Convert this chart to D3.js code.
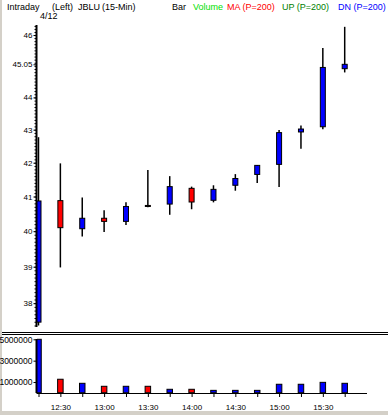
<!DOCTYPE html>
<html>
<head>
<meta charset="utf-8">
<script src="https://cdnjs.cloudflare.com/ajax/libs/d3/7.8.5/d3.min.js"></script>
<style>
  html, body { margin: 0; padding: 0; background: #fff; }
  svg { display: block; }
  text { font-family: "Liberation Sans", Arial, sans-serif; }
</style>
</head>
<body>
<div id="chart"></div>
<script>
// 15-min bars, JBLU 4/12
var times = ["12:15", "12:30", "12:45", "13:00", "13:15", "13:30", "13:45", "14:00",
             "14:15", "14:30", "14:45", "15:00", "15:15", "15:30", "15:45"];
var opens  = [37.49, 40.88, 40.07, 40.37, 40.28, 40.74, 40.78, 41.24, 40.89, 41.33, 41.65, 41.95, 42.93, 43.09, 44.91];
var highs  = [42.77, 41.98, 40.97, 40.60, 40.83, 41.78, 41.60, 41.29, 41.33, 41.66, 41.93, 42.99, 43.13, 45.58, 46.27];
var lows   = [37.40, 38.98, 39.85, 39.98, 40.18, 40.69, 40.47, 40.63, 40.83, 41.17, 41.40, 41.28, 42.42, 43.01, 44.79];
var closes = [40.87, 40.10, 40.37, 40.28, 40.71, 40.71, 41.29, 40.84, 41.21, 41.53, 41.92, 42.91, 43.02, 44.95, 45.05];
var volumes = [5000000, 1260000, 880000, 600000, 600000, 600000, 320000, 320000,
               220000, 220000, 220000, 790000, 790000, 970000, 880000];

var priceTicks = [38, 39, 40, 41, 42, 43, 44, 45.05, 46];
var volumeTicks = [1000000, 3000000, 5000000];
var timeLabels = ["12:30", "13:00", "13:30", "14:00", "14:30", "15:00", "15:30"];

var width = 388,
    height = 415;

var svg = d3.select("#chart").append("svg")
    .attr("width", width)
    .attr("height", height);

// grey window frame
svg.append("rect").attr("x", 0).attr("y", 0).attr("width", width).attr("height", height).attr("fill", "#d4d0c8");
svg.append("rect").attr("x", 2).attr("y", 0).attr("width", width - 2).attr("height", 411).attr("fill", "#fff");

var parseTime = function(s) {
    var p = s.split(":");
    return new Date(2000, 3, 12, +p[0], +p[1]);
};

var bars = times.map(function(t, i) {
    return { t: parseTime(t), o: opens[i], h: highs[i], l: lows[i], c: closes[i], v: volumes[i] };
});

var axisX = 36.5;

var x = d3.scaleTime()
    .domain([parseTime("12:15"), parseTime("15:45")])
    .range([38.5, 344.7]);

var y = d3.scaleLog()
    .domain([37.36, 46.33])
    .range([327, 25]);

var yv = d3.scaleLinear()
    .domain([0, 5000000])
    .range([392.7, 339.3]);

var upColor = "#0000ff",
    dnColor = "#ff0000";

svg.append("clipPath").attr("id", "plotclip")
  .append("rect").attr("x", 37).attr("y", 0).attr("width", width).attr("height", height);

// header
var header = svg.append("g").attr("font-size", "9px");
var headerItems = [
    { text: "Intraday", x: 7, color: "#000" },
    { text: "(Left)", x: 52, color: "#000" },
    { text: "JBLU", x: 78, color: "#000" },
    { text: "(15-Min)", x: 102, color: "#000" },
    { text: "Bar", x: 172, color: "#000" },
    { text: "Volume", x: 193, color: "#00e000" },
    { text: "MA (P=200)", x: 227, color: "#ff0000" },
    { text: "UP (P=200)", x: 282, color: "#008000" },
    { text: "DN (P=200)", x: 338, color: "#0000ff" }
];
header.selectAll("text")
    .data(headerItems)
    .enter().append("text")
    .attr("x", function(d) { return d.x; })
    .attr("y", 10)
    .attr("fill", function(d) { return d.color; })
    .text(function(d) { return d.text; });

svg.append("text")
    .attr("x", 40).attr("y", 19)
    .attr("font-size", "9px")
    .text("4/12");

// separators between panels
[332.5, 334.5].forEach(function(yy) {
    svg.append("line")
        .attr("x1", 2).attr("x2", width)
        .attr("y1", yy).attr("y2", yy)
        .attr("stroke", "#000");
});

// candles
var plot = svg.append("g").attr("clip-path", "url(#plotclip)");

plot.selectAll("line.wick")
    .data(bars)
    .enter().append("line")
    .attr("class", "wick")
    .attr("x1", function(d) { return x(d.t); })
    .attr("x2", function(d) { return x(d.t); })
    .attr("y1", function(d) { return y(d.h); })
    .attr("y2", function(d) { return y(d.l); })
    .attr("stroke", "#000")
    .attr("stroke-width", 1.5);

plot.selectAll("rect.body")
    .data(bars)
    .enter().append("rect")
    .attr("class", "body")
    .attr("x", function(d) { return x(d.t) - 2.5; })
    .attr("width", 5)
    .attr("y", function(d) { return y(Math.max(d.o, d.c)); })
    .attr("height", function(d) { return Math.max(0.5, Math.abs(y(d.o) - y(d.c))); })
    .attr("fill", function(d) { return d.c >= d.o ? upColor : dnColor; })
    .attr("stroke", "#000")
    .attr("stroke-width", 1);

// volume bars
plot.selectAll("rect.vol")
    .data(bars)
    .enter().append("rect")
    .attr("class", "vol")
    .attr("x", function(d) { return x(d.t) - 2.75; })
    .attr("width", 5.5)
    .attr("y", function(d) { return yv(d.v); })
    .attr("height", function(d) { return yv(0) - yv(d.v); })
    .attr("fill", function(d) { return d.c >= d.o ? upColor : dnColor; })
    .attr("stroke", "#000")
    .attr("stroke-width", 1);

// price axis
var minorTicks = d3.range(374, 464).map(function(v) { return v / 10; });
svg.append("g")
    .attr("transform", "translate(" + axisX + ",0)")
    .call(d3.axisLeft(y).tickValues(minorTicks).tickSize(2).tickFormat(""))
    .call(function(g) { g.select(".domain").remove(); });

var priceAxis = svg.append("g")
    .attr("transform", "translate(" + axisX + ",0)")
    .call(d3.axisLeft(y).tickValues(priceTicks).tickSize(3).tickPadding(1)
        .tickFormat(function(d) { return String(d); }));
priceAxis.select(".domain").remove();
priceAxis.selectAll("text").attr("font-size", "8px").attr("font-family", "Liberation Sans, Arial, sans-serif");

svg.append("line")
    .attr("x1", axisX).attr("x2", axisX)
    .attr("y1", 25).attr("y2", 327)
    .attr("stroke", "#000").attr("stroke-width", 2);

// volume axis
var volAxis = svg.append("g")
    .attr("transform", "translate(" + axisX + ",0)")
    .call(d3.axisLeft(yv).tickValues(volumeTicks).tickSize(3).tickPadding(1)
        .tickFormat(d3.format("d")));
volAxis.select(".domain").remove();
volAxis.selectAll("text").attr("font-size", "8.5px").attr("font-family", "Liberation Sans, Arial, sans-serif");

svg.append("line")
    .attr("x1", axisX).attr("x2", axisX)
    .attr("y1", 339).attr("y2", 393)
    .attr("stroke", "#000").attr("stroke-width", 2);

// time axis
var tickTimes = d3.timeMinute.every(15).range(parseTime("12:15"), parseTime("15:46"));
var timeAxis = svg.append("g")
    .attr("transform", "translate(0,393)")
    .call(d3.axisBottom(x).tickValues(tickTimes).tickSize(4).tickPadding(7)
        .tickFormat(function(d) {
            var s = d3.timeFormat("%H:%M")(d);
            return timeLabels.indexOf(s) >= 0 ? s : "";
        }));
timeAxis.select(".domain").remove();
timeAxis.selectAll("text").attr("font-size", "8px").attr("font-family", "Liberation Sans, Arial, sans-serif");

svg.append("line")
    .attr("x1", axisX).attr("x2", 367)
    .attr("y1", 393.5).attr("y2", 393.5)
    .attr("stroke", "#000");
</script>
</body>
</html>
